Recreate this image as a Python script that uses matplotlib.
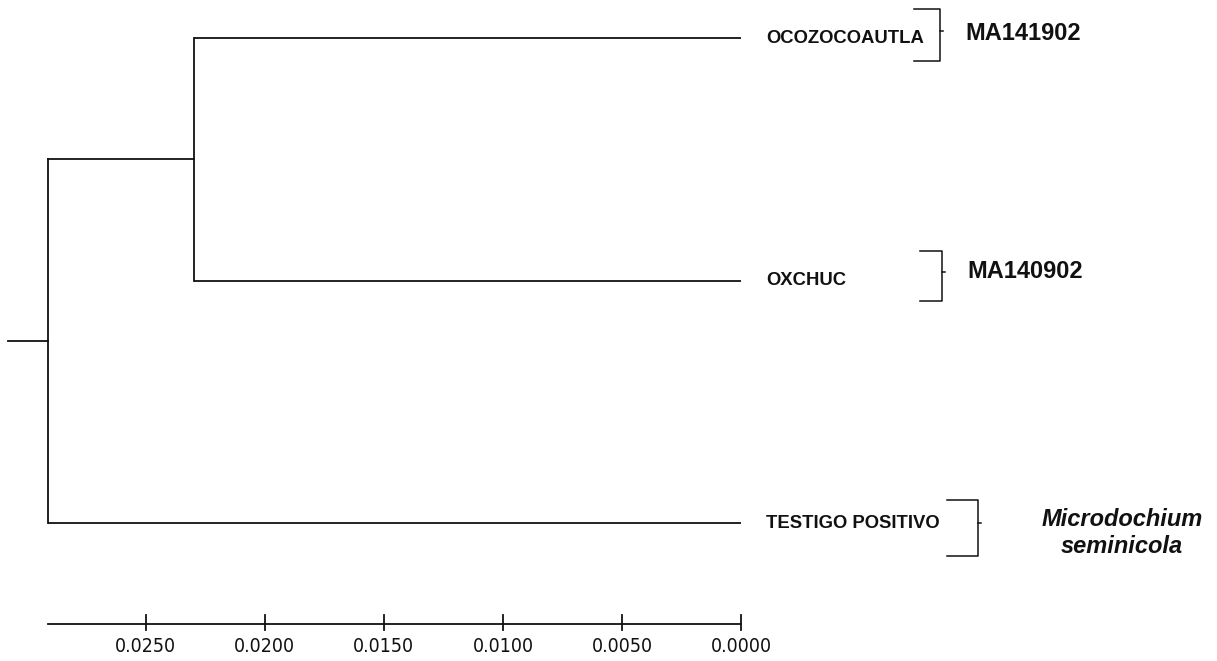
import matplotlib
matplotlib.use("Agg")
from matplotlib import pyplot as plt
from matplotlib import transforms as mt

# leaves, top to bottom
leaves = ['OCOZOCOAUTLA', 'OXCHUC', 'TESTIGO POSITIVO']
groups = ['MA141902', 'MA140902', 'Microdochium\nseminicola']

# node heights (distance)
node_inner = 0.0230   # OCOZOCOAUTLA + OXCHUC
node_root = 0.0291    # root
root_stub = 0.0017

scale_ticks = [0.0250, 0.0200, 0.0150, 0.0100, 0.0050, 0.0000]
scale_labels = ['0.0250', '0.0200', '0.0150', '0.0100', '0.0050', '0.0000']

fig = plt.figure(figsize=(12.17, 6.61), dpi=100)
ax = fig.add_axes([0, 0, 1, 1])
ax.set_xlim(0.03113, -0.0200)
ax.set_ylim(2.569, -0.157)
ax.axis('off')

lc = '#111111'
lw = 1.3
ys = [0, 1, 2]

# tips
for y in ys:
    x0 = node_inner if y < 2 else node_root
    ax.plot([x0, 0], [y, y], color=lc, lw=lw, solid_capstyle='butt')
# inner node
y_inner = (ys[0] + ys[1]) / 2
ax.plot([node_inner, node_inner], [ys[0], ys[1]], color=lc, lw=lw)
ax.plot([node_root, node_inner], [y_inner, y_inner], color=lc, lw=lw)
# root
ax.plot([node_root, node_root], [y_inner, ys[2]], color=lc, lw=lw)
y_root = (y_inner + ys[2]) / 2
ax.plot([node_root + root_stub, node_root], [y_root, y_root], color=lc, lw=lw)

# leaf labels
for y, name in zip(ys, leaves):
    ax.annotate(name, (0, y), xytext=(25, 0), textcoords='offset pixels',
                ha='left', va='center', fontsize=13.3, fontweight='bold',
                family=['Liberation Sans', 'DejaVu Sans'], color='#111111')

# brackets (pixel layout, blended with leaf y)
px = lambda p: p / 1217.0
tr = mt.blended_transform_factory(ax.transAxes, ax.transData)
brackets = [(914, 940, -0.12, 0.096, -0.029),
            (920, 942, -0.12, 0.086, -0.037),
            (947, 978, -0.095, 0.136, 0.0)]
for y, (xl, xr, top, bot, nub) in zip(ys, brackets):
    ax.plot([px(xl), px(xr), px(xr), px(xl)], [y + top, y + top, y + bot, y + bot],
            color=lc, lw=1.1, transform=tr)
    ax.plot([px(xr), px(xr + 3)], [y + nub, y + nub], color=lc, lw=1.1, transform=tr)

# group labels
ax.annotate(groups[0], (0, ys[0]), xytext=(224, 5), textcoords='offset pixels',
            ha='left', va='center', fontsize=17, fontweight='bold',
            family=['Liberation Sans', 'DejaVu Sans'], color='#111111')
ax.annotate(groups[1], (0, ys[1]), xytext=(226, 9), textcoords='offset pixels',
            ha='left', va='center', fontsize=17, fontweight='bold',
            family=['Liberation Sans', 'DejaVu Sans'], color='#111111')
ax.annotate(groups[2], (0, ys[2]), xytext=(381, -10), textcoords='offset pixels',
            ha='center', va='center', fontsize=17, fontweight='bold', fontstyle='italic',
            linespacing=1.2, family=['Liberation Sans', 'DejaVu Sans'], color='#111111')

# scale bar
y_bar = 2.416
ax.plot([node_root, 0], [y_bar, y_bar], color=lc, lw=lw)
for t, lab in zip(scale_ticks, scale_labels):
    ax.plot([t, t], [2.379, 2.441], color=lc, lw=lw)
    ax.text(t, 2.51, lab, ha='center', va='center', fontsize=14,
            family=['Liberation Sans Narrow', 'DejaVu Sans'], fontstretch='condensed',
            color='#111111')

plt.savefig('out.png', dpi=100)
